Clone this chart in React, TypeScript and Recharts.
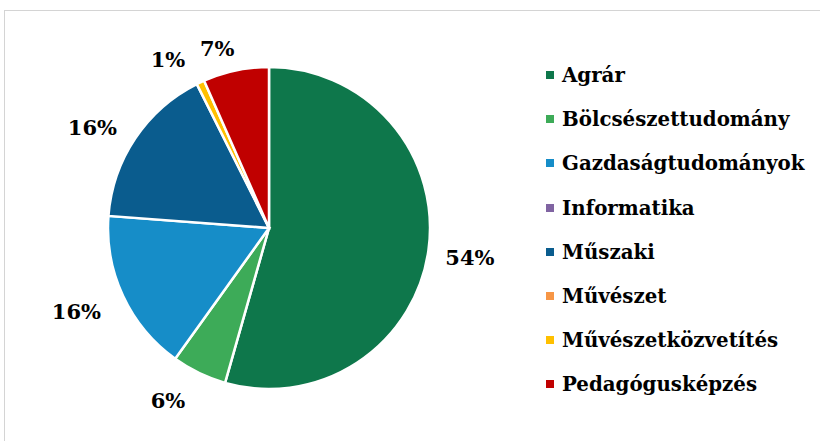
import React from "react";
import { PieChart, Pie, Cell, Legend } from "recharts";

const CATEGORIES = [
  "Agrár",
  "Bölcsészettudomány",
  "Gazdaságtudományok",
  "Informatika",
  "Műszaki",
  "Művészet",
  "Művészetközvetítés",
  "Pedagógusképzés",
];
const SHARES = [54.4, 5.5, 16.3, 0, 16.4, 0, 0.8, 6.6];
const COLORS = ["#0E774B", "#3DAB58", "#168DC8", "#8064A2", "#0A5C8E", "#F79646", "#FFC000", "#C00000"];

// label placement tweaks (degrees of nudge from the slice mid angle, distance from centre)
const LABEL_NUDGE = [-0.3, -4.6, -1.5, 0, 4.3, 0, 5.8, 4.2];
const LABEL_RADIUS = [203, 200, 210, 200, 203, 200, 196, 187];

const data = CATEGORIES.map((name, i) => ({ name, value: SHARES[i] }));

const FONT = "'DejaVu Serif', serif";

const RADIAN = Math.PI / 180;

function renderLabel(props: any) {
  const { cx, cy, midAngle, value, index } = props;
  if (!value) return null;
  const r = LABEL_RADIUS[index];
  const a = (midAngle + LABEL_NUDGE[index]) * RADIAN;
  const x = cx + r * Math.cos(-a);
  const y = cy + r * Math.sin(-a);
  return (
    <text
      x={x}
      y={y}
      textAnchor="middle"
      dominantBaseline="central"
      fontFamily={FONT}
      fontWeight="bold"
      fontSize={21}
      fill="#000"
    >
      {`${Math.round(value)}%`}
    </text>
  );
}

function renderLegend(props: any) {
  const { payload } = props;
  return (
    <div>
      {payload.map((p: any) => (
        <div key={p.value} style={{ display: "flex", alignItems: "center", height: 44.2 }}>
          <span style={{ width: 8, height: 8, background: p.color, marginRight: 8, display: "inline-block" }} />
          <span style={{ fontFamily: FONT, fontWeight: "bold", fontSize: 19.8, color: "#000" }}>{p.value}</span>
        </div>
      ))}
    </div>
  );
}

export default function App() {
  return (
    <div style={{ position: "fixed", left: 0, top: 0, width: 820, height: 441, background: "#fff", overflow: "hidden" }}>
      <PieChart
        width={820}
        height={441}
        margin={{ top: 0, right: 0, bottom: 0, left: 0 }}
        style={{ position: "absolute", left: 0, top: 0 }}
      >
        <Pie
          data={data}
          dataKey="value"
          nameKey="name"
          cx={269}
          cy={228}
          outerRadius={161}
          startAngle={90}
          endAngle={-270}
          stroke="#fff"
          strokeWidth={2.5}
          label={renderLabel}
          labelLine={false}
          isAnimationActive={false}
        >
          {data.map((_, i) => (
            <Cell key={i} fill={COLORS[i]} />
          ))}
        </Pie>
        <Legend
          layout="vertical"
          content={renderLegend}
          wrapperStyle={{ position: "absolute", left: 546, top: 53, width: 270 }}
        />
      </PieChart>
      <div
        style={{
          position: "absolute",
          left: 4,
          top: 10,
          width: 830,
          height: 450,
          border: "1px solid #d4d4d4",
          pointerEvents: "none",
          zIndex: 5,
        }}
      />
    </div>
  );
}
